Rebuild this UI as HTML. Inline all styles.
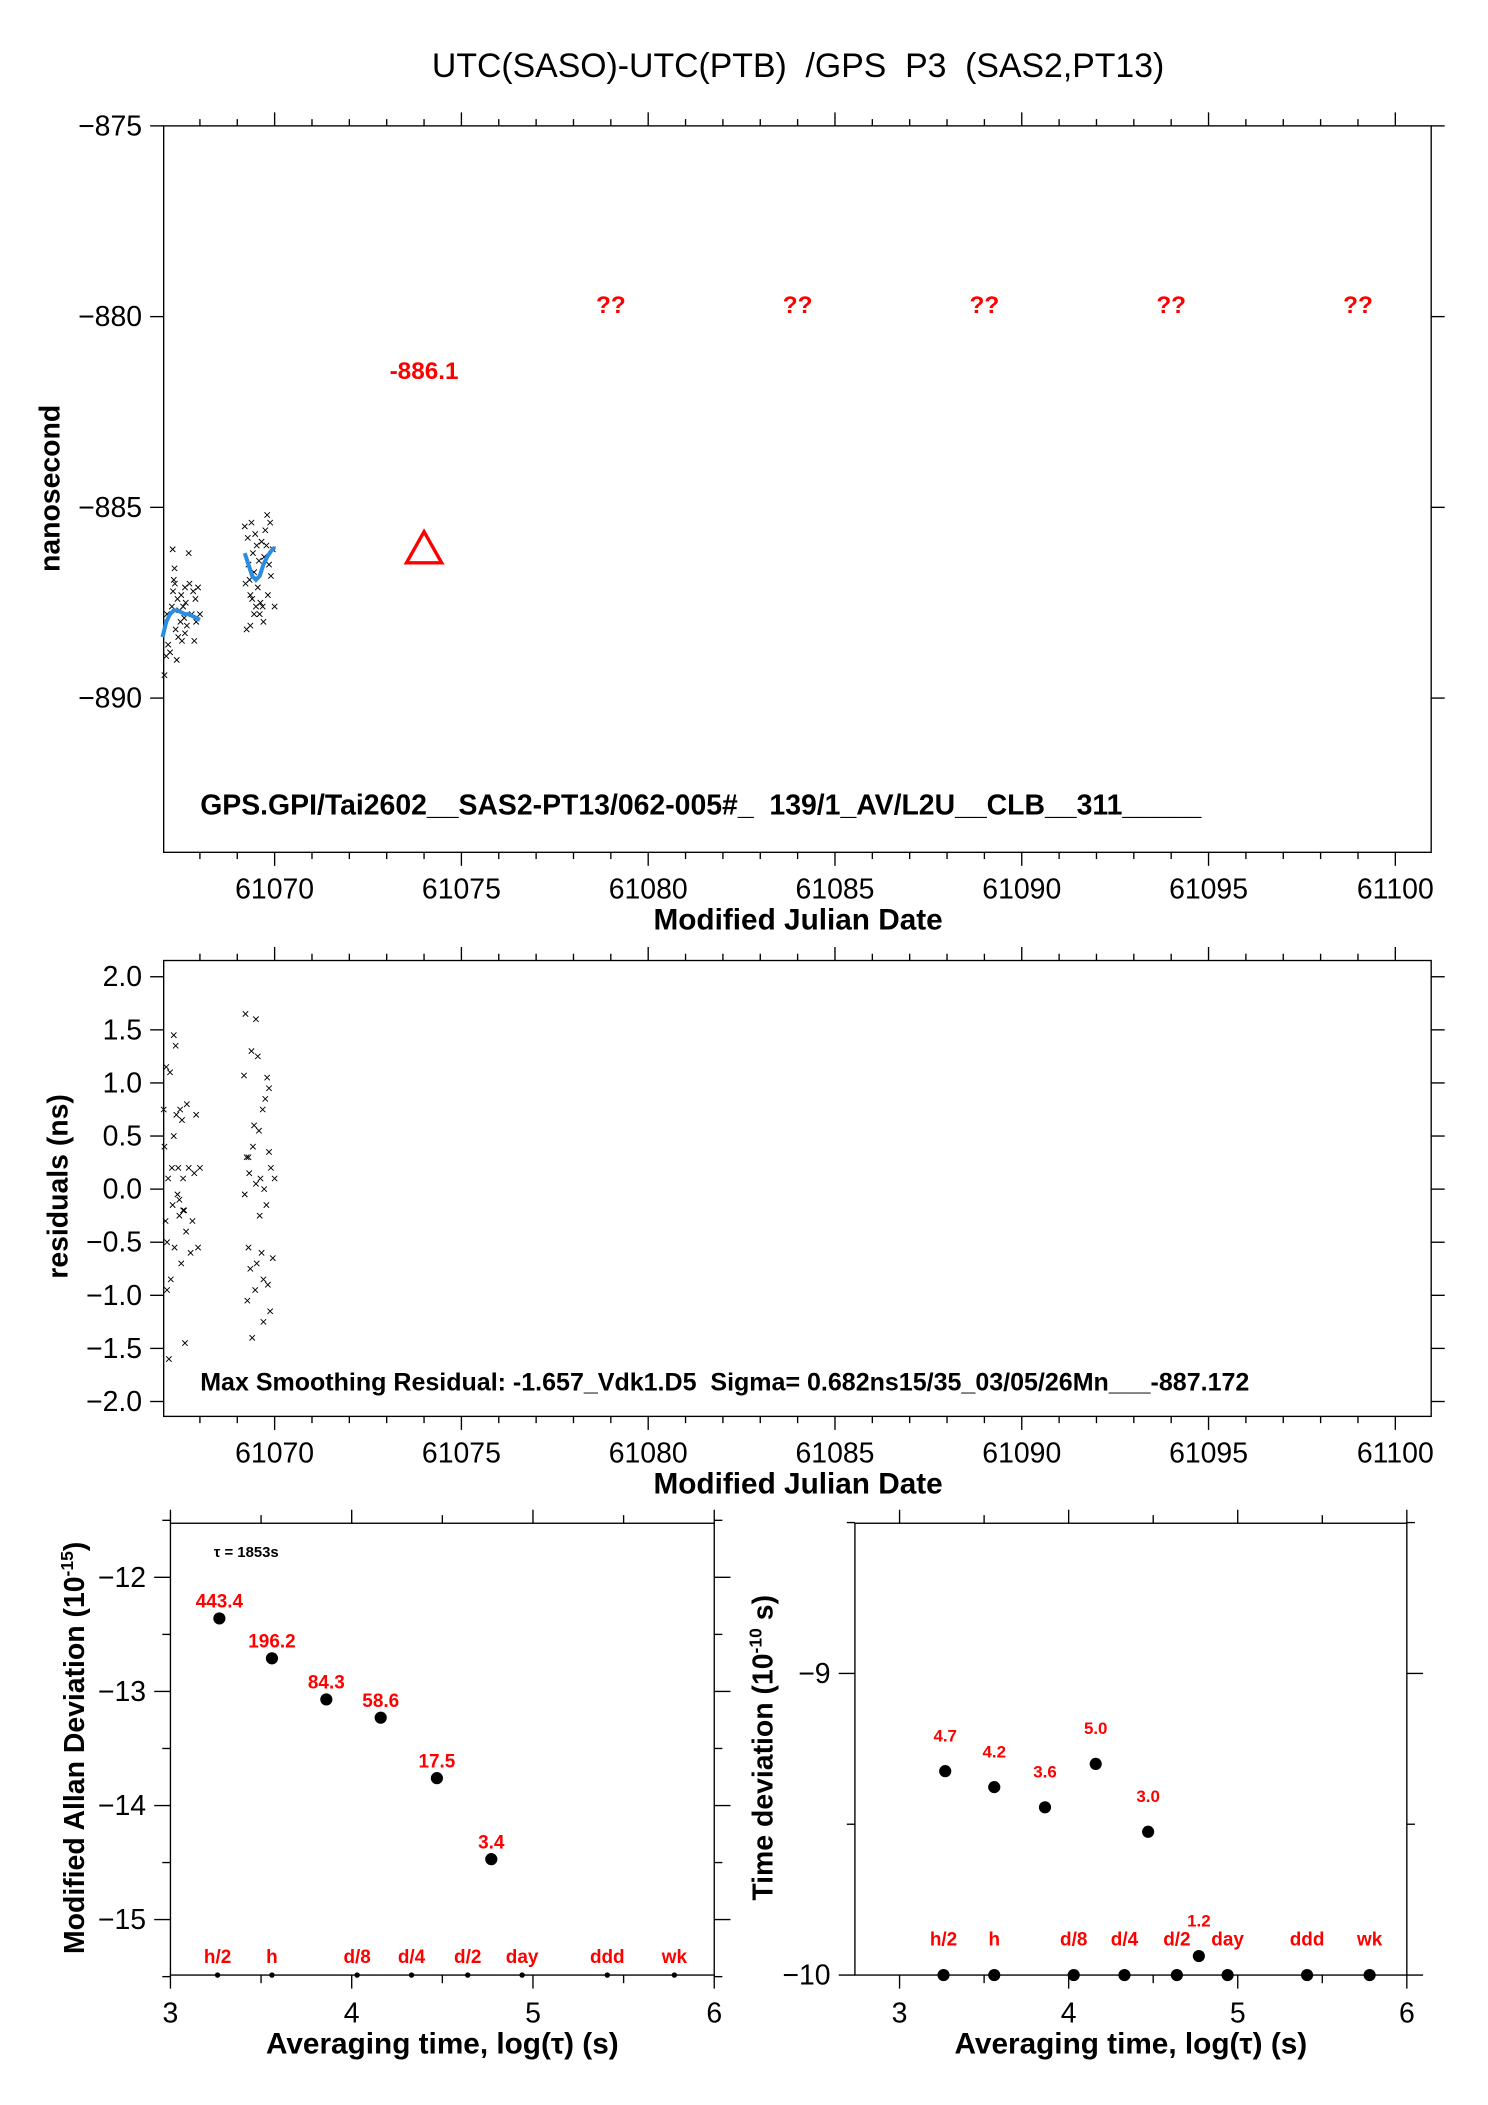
<!DOCTYPE html>
<html><head><meta charset="utf-8"><style>
html,body{margin:0;padding:0;background:#fff;}
svg{display:block;font-family:"Liberation Sans",sans-serif;}
text{white-space:pre;}
</style></head><body>
<svg id="fig" width="1488" height="2105" viewBox="0 0 1100 1556" xmlns="http://www.w3.org/2000/svg">
<text x="590" y="57" font-size="25" text-anchor="middle">UTC(SASO)-UTC(PTB)  /GPS  P3  (SAS2,PT13)</text>
</svg>
<script>
// ---------- data ----------
const top1MJD = [61067.05,61067.1,61067.12,61067.15,61067.2,61067.25,61067.28,61067.3,61067.32,61067.35,61067.38,61067.4,61067.42,61067.45,61067.48,61067.5,61067.52,61067.55,61067.58,61067.6,61067.62,61067.65,61067.7,61067.72,61067.78,61067.82,61067.85,61067.88,61067.9,61067.95,61068.0,61067.27,61067.33,61067.6];
const top1NS = [-889.4,-888.9,-887.8,-888.6,-888.8,-887.6,-887.2,-886.9,-886.6,-888.2,-889.0,-887.4,-888.4,-887.7,-888.0,-887.3,-888.5,-887.6,-887.9,-888.3,-887.5,-888.1,-886.2,-887.0,-887.8,-887.2,-888.5,-887.4,-888.0,-887.1,-887.8,-886.1,-887.0,-887.1];
const top2MJD = [61069.2,61069.22,61069.25,61069.28,61069.3,61069.33,61069.35,61069.38,61069.4,61069.42,61069.45,61069.48,61069.5,61069.52,61069.55,61069.58,61069.6,61069.62,61069.65,61069.68,61069.7,61069.72,61069.75,61069.78,61069.8,61069.82,61069.85,61069.88,61069.9,61069.95,61070.0,61069.35,61069.45];
const top2NS = [-885.5,-887.0,-888.2,-885.8,-886.5,-886.9,-888.1,-885.4,-887.4,-886.2,-886.7,-885.7,-887.6,-886.0,-887.1,-886.4,-887.8,-887.5,-885.9,-887.6,-888.0,-886.3,-885.6,-886.0,-885.2,-887.3,-886.5,-885.4,-886.8,-886.1,-887.6,-887.3,-887.8];
const fit1MJD = [61067.0,61067.1,61067.2,61067.3,61067.4,61067.5,61067.6,61067.7,61067.8,61067.9,61068.0];
const fit1NS = [-888.4,-888.0,-887.8,-887.7,-887.7,-887.75,-887.8,-887.8,-887.85,-887.9,-887.95];
const fit2MJD = [61069.2,61069.3,61069.4,61069.5,61069.6,61069.7,61069.8,61069.9,61070.0];
const fit2NS = [-886.2,-886.5,-886.8,-886.9,-886.8,-886.5,-886.3,-886.15,-886.05];
const predMJD = [61074.0];
const predNS = [-886.1];
const predLabels = ["-886.1"];
const unknownMJD = [61079,61084,61089,61094,61099];
const resMJD = [61067.03,61067.05,61067.08,61067.1,61067.12,61067.15,61067.17,61067.2,61067.22,61067.25,61067.27,61067.3,61067.32,61067.35,61067.37,61067.4,61067.42,61067.45,61067.47,61067.5,61067.52,61067.55,61067.58,61067.6,61067.63,61067.65,61067.7,61067.75,61067.8,61067.85,61067.9,61067.95,61068.0,61067.12,61067.3,61067.45,61067.55,
61069.18,61069.2,61069.22,61069.25,61069.27,61069.3,61069.32,61069.35,61069.38,61069.4,61069.42,61069.45,61069.48,61069.5,61069.52,61069.55,61069.58,61069.6,61069.62,61069.65,61069.68,61069.7,61069.72,61069.75,61069.78,61069.8,61069.82,61069.85,61069.88,61069.9,61069.95,61070.0,61069.3,61069.5,61069.7,61069.85];
const resNS = [0.75,0.4,-0.3,1.15,-0.5,0.1,-1.6,1.1,-0.85,0.2,-0.15,1.45,-0.55,1.35,0.7,-0.05,0.2,-0.25,0.75,-0.7,0.65,0.1,-0.2,-1.45,-0.4,0.8,0.2,-0.6,-0.3,0.15,0.7,-0.55,0.2,-0.95,0.5,-0.1,-0.2,
1.07,-0.05,1.65,0.3,-1.05,-0.55,0.15,-0.75,1.3,-1.4,0.4,0.6,-0.95,0.05,-0.7,1.25,0.55,-0.25,0.1,-0.6,0.75,-1.25,0.0,0.85,-0.15,1.05,-0.9,0.35,-1.15,0.2,-0.65,0.1,0.3,1.6,-0.85,0.95,-0.25,-1.1];
const ticksTopY = [-875,-880,-885,-890];
const ticksResY = [2.0,1.5,1.0,0.5,0.0,-0.5,-1.0,-1.5,-2.0];
const ticksMJD = [61070,61075,61080,61085,61090,61095,61100];
const madLogTau = [3.27,3.56,3.86,4.16,4.47,4.77];
const madValue = [-12.36,-12.71,-13.07,-13.23,-13.76,-14.47];
const madLabels = ["443.4","196.2","84.3","58.6","17.5","3.4"];
const tdevLogTau = [3.27,3.56,3.86,4.16,4.47,4.77];
const tdevValue = [-9.324,-9.377,-9.444,-9.30,-9.525,-9.937];
const tdevLabels = ["4.7","4.2","3.6","5.0","3.0","1.2"];
const markLogTau = [3.26,3.56,4.03,4.33,4.64,4.94,5.41,5.78];
const markLabels = ["h/2","h","d/8","d/4","d/2","day","ddd","wk"];
const ticksMadY = [-12,-13,-14,-15];
const ticksTdevY = [-9,-10];
const ticksLogTau = [3,4,5,6];

// ---------- helpers ----------
const svg = document.getElementById('fig');
const NS = 'http://www.w3.org/2000/svg';
function mk(tag, attrs, parent){const e=document.createElementNS(NS,tag);for(const k in attrs)e.setAttribute(k,attrs[k]);(parent||svg).appendChild(e);return e;}
function lin(d0,d1,r0,r1){return v=>r0+(v-d0)*(r1-r0)/(d1-d0);}

const P1={l:121,r:1058,t:93,b:630};
const P2={l:121,r:1058,t:710,b:1047};
const P3={l:126,r:528,t:1126,b:1460};
const P4={l:632,r:1040,t:1126,b:1460};
const xMJD=lin(61067.03,61100.96,121,1058);
const y1=lin(-875,-890,93,516);
const y2=lin(2,-2,722,1036);
const x3=lin(3,6,126,528);
const y3=lin(-12,-15,1166,1419);
const x4=lin(3,6,665,1040);
const y4=lin(-9,-10,1237,1460);

function box(P,name){const r=mk('rect',{x:P.l,y:P.t,width:P.r-P.l,height:P.b-P.t,fill:'none',stroke:'#000','stroke-width':1});

}
function tick(x1,y1_,x2,y2_){const l=mk('line',{x1:x1,y1:y1_,x2:x2,y2:y2_,stroke:'#000','stroke-width':1});

}
function txt(x,y,s,attrs,name){const t=mk('text',Object.assign({x:x,y:y},attrs));t.textContent=s;

return t;}
function cross(x,y,name){const p=mk('path',{d:`M${x-2} ${y-2}L${x+2} ${y+2}M${x-2} ${y+2}L${x+2} ${y-2}`,stroke:'#000','stroke-width':0.7});

}
function dot(x,y,r,name){const c=mk('circle',{cx:x,cy:y,r:r,fill:'#000'});

}

function mjdAxes(P,yfun,yt,fmt,yname){
  box(P,yname+'-plot-frame');
  for(let d=61067;d<=61100;d++){const x=xMJD(d);if(x<P.l)continue;const maj=d%5===0;const L=maj?10:5;tick(x,P.t,x,P.t-L);tick(x,P.b,x,P.b+L);}
  ticksMJD.forEach(v=>{txt(xMJD(v),P.b+34,String(v),{'font-size':21,'text-anchor':'middle'},'x-tick-label');});
  yt.forEach(v=>{const y=yfun(v);tick(P.l,y,P.l-10,y);tick(P.r,y,P.r+10,y);
    txt(P.l-16,y+7,fmt(v),{'font-size':21,'text-anchor':'end'},'y-tick-label');});
  txt(590,P.b+57,'Modified Julian Date',{'font-size':22,'font-weight':'bold','text-anchor':'middle'},'x-axis-title');
}
const minus=s=>s.replace('-','\u2212');

// ---------- panel 1 ----------
mjdAxes(P1,y1,ticksTopY,v=>minus(String(v)),'top');
txt(0,0,'nanosecond',{'font-size':21,'font-weight':'bold','text-anchor':'middle',transform:'translate(44,361) rotate(-90)'},'y-axis-title');
top1MJD.forEach((m,i)=>cross(xMJD(m),y1(top1NS[i]),'data-point'));
top2MJD.forEach((m,i)=>cross(xMJD(m),y1(top2NS[i]),'data-point'));
[[fit1MJD,fit1NS],[fit2MJD,fit2NS]].forEach(([mx,ny])=>{
  const p=mk('polyline',{points:mx.map((m,i)=>xMJD(m)+','+y1(ny[i])).join(' '),fill:'none',stroke:'#2b8de0','stroke-width':3});
  
  
});
predMJD.forEach((m,i)=>{const x=xMJD(m),y=y1(predNS[i]);
  const t=mk('polygon',{points:`${x},${y-13} ${x-13},${y+10} ${x+13},${y+10}`,fill:'none',stroke:'#f00','stroke-width':2.5});
  
  
  txt(x,y1(-881.5)+4,predLabels[i],{'font-size':18,'font-weight':'bold',fill:'#f00','text-anchor':'middle'},'prediction-label');});
unknownMJD.forEach(m=>txt(xMJD(m),y1(-879.8)+3,'??',{'font-size':18,'font-weight':'bold',fill:'#f00','text-anchor':'middle'},'unknown-label'));
txt(148,602,'GPS.GPI/Tai2602__SAS2-PT13/062-005#_  139/1_AV/L2U__CLB__311_____',{'font-size':21,'font-weight':'bold'},'file-info-text');

// ---------- panel 2 ----------
mjdAxes(P2,y2,ticksResY,v=>minus(v.toFixed(1)),'residual');
txt(0,0,'residuals (ns)',{'font-size':21,'font-weight':'bold','text-anchor':'middle',transform:'translate(50,877) rotate(-90)'},'y-axis-title');
resMJD.forEach((m,i)=>cross(xMJD(m),y2(resNS[i]),'residual-point'));
txt(148,1028,'Max Smoothing Residual: -1.657_Vdk1.D5  Sigma= 0.682ns15/35_03/05/26Mn___-887.172',{'font-size':18.5,'font-weight':'bold'},'residual-info-text');

// ---------- panel 3 & 4 ----------
function tauAxes(P,xf,yf,yt,minorY,name){
  box(P,name+'-frame');
  for(let v=3;v<=6;v+=0.5){const x=xf(v);if(x<P.l-0.5)continue;const L=(v%1===0)?10:6;tick(x,P.t,x,P.t-L);tick(x,P.b,x,P.b+L);}
  ticksLogTau.forEach(v=>txt(xf(v),P.b+35,String(v),{'font-size':21,'text-anchor':'middle'},'x-tick-label'));
  yt.forEach(v=>{const y=yf(v);tick(P.l,y,P.l-12,y);tick(P.r,y,P.r+12,y);
    txt(P.l-18,y+7,minus(String(v)),{'font-size':21,'text-anchor':'end'},'y-tick-label');});
  minorY.forEach(v=>{const y=yf(v);tick(P.l,y,P.l-6,y);tick(P.r,y,P.r+6,y);});
  const c=(P.l+P.r)/2;
  txt(c,P.b+58,'Averaging time, log(\u03C4) (s)',{'font-size':22,'font-weight':'bold','text-anchor':'middle'},'x-axis-title');
}
tauAxes(P3,x3,y3,ticksMadY,[-11.5,-12.5,-13.5,-14.5,-15.5],'mdev-plot');
const yl3=txt(0,0,'Modified Allan Deviation (10',{'font-size':21,'font-weight':'bold','text-anchor':'middle',transform:'translate(62,1292) rotate(-90)'},'y-axis-title');
const s3=mk('tspan',{'font-size':13,dy:-8},yl3);s3.textContent='-15';


const s3b=mk('tspan',{dy:8},yl3);s3b.textContent=')';


txt(158,1151,'\u03C4 = 1853s',{'font-size':11,'font-weight':'bold'},'tau-note');
madLogTau.forEach((v,i)=>{dot(x3(v),y3(madValue[i]),4.5,'mdev-point');
  txt(x3(v),y3(madValue[i])-8,madLabels[i],{'font-size':14,'font-weight':'bold',fill:'#f00','text-anchor':'middle'},'mdev-value-label');});
markLogTau.forEach((v,i)=>{dot(x3(v),P3.b,2,'tau-marker');
  txt(x3(v),P3.b-9,markLabels[i],{'font-size':14,'font-weight':'bold',fill:'#f00','text-anchor':'middle'},'tau-marker-label');});

tauAxes(P4,x4,y4,ticksTdevY,[-8.5,-9.5],'tdev-plot');
const yl4=txt(0,0,'Time deviation (10',{'font-size':21,'font-weight':'bold','text-anchor':'middle',transform:'translate(571,1292) rotate(-90)'},'y-axis-title');
const s4=mk('tspan',{'font-size':13,dy:-8},yl4);s4.textContent='-10';


const s4b=mk('tspan',{dy:8},yl4);s4b.textContent=' s)';


tdevLogTau.forEach((v,i)=>{dot(x4(v),y4(tdevValue[i]),4.5,'tdev-point');
  txt(x4(v),y4(tdevValue[i])-22,tdevLabels[i],{'font-size':12.5,'font-weight':'bold',fill:'#f00','text-anchor':'middle'},'tdev-value-label');});
markLogTau.forEach((v,i)=>{dot(x4(v),P4.b,4.5,'tau-marker');
  txt(x4(v),P4.b-22,markLabels[i],{'font-size':14,'font-weight':'bold',fill:'#f00','text-anchor':'middle'},'tau-marker-label');});
</script>
</body></html>
